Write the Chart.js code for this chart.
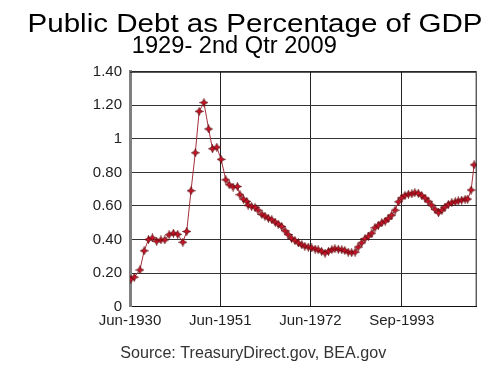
<!DOCTYPE html>
<html>
<head>
<meta charset="utf-8">
<script src="https://cdn.jsdelivr.net/npm/chart.js@4/dist/chart.umd.min.js"></script>
<style>
  html, body { margin: 0; padding: 0; background: #fff; }
  #wrap { position: relative; width: 490px; height: 371px; }
</style>
</head>
<body>
<div id="wrap"><canvas id="debtChart" width="490" height="371"></canvas></div>
<script>
// ---- Data ----
const titleText = 'Public Debt as Percentage of GDP';
const subtitleText = '1929- 2nd Qtr 2009';
const sourceText = 'Source: TreasuryDirect.gov, BEA.gov';

// x tick positions (decimal years) and their labels
const xTickValues = [1930.5, 1951.5, 1972.5, 1993.75];
const xTickLabels = ['Jun-1930', 'Jun-1951', 'Jun-1972', 'Sep-1993'];
const yTickLabels = ['0', '0.20', '0.40', '0.60', '0.80', '1', '1.20', '1.40'];

const years = [
  1930.7, 1931.5, 1932.8, 1933.8, 1934.8, 1935.7, 1936.7, 1937.7, 1938.6, 1939.6,
  1940.6, 1941.6, 1942.8, 1943.7, 1944.7, 1945.7, 1946.6, 1947.7, 1948.8, 1949.7,
  1950.7, 1951.7, 1952.8, 1953.6, 1954.5, 1955.5, 1956.1, 1956.9, 1957.7, 1958.0,
  1958.8, 1959.6, 1960.3, 1961.2, 1961.9, 1962.7, 1963.5, 1964.3, 1965.0, 1965.8,
  1966.6, 1967.3, 1968.1, 1968.9, 1969.7, 1970.5, 1971.2, 1972.0, 1972.8, 1973.6,
  1974.3, 1975.1, 1975.9, 1976.7, 1977.5, 1978.2, 1979.0, 1979.8, 1980.5, 1981.3,
  1982.1, 1982.9, 1983.6, 1984.4, 1985.2, 1986.0, 1986.8, 1987.5, 1988.3, 1989.1,
  1989.9, 1990.6, 1991.4, 1992.2, 1993.0, 1993.75, 1994.5, 1995.3, 1996.1, 1996.8,
  1997.6, 1998.4, 1999.2, 1999.9, 2000.7, 2001.5, 2002.3, 2003.1, 2003.8, 2004.6,
  2005.4, 2006.2, 2006.9, 2007.7, 2008.5, 2009.1, 2009.9, 2010.6
];

const debtRatio = [
  0.164, 0.176, 0.219, 0.333, 0.400, 0.410, 0.390, 0.398, 0.398, 0.429,
  0.438, 0.431, 0.384, 0.448, 0.691, 0.917, 1.164, 1.216, 1.059, 0.941,
  0.950, 0.878, 0.756, 0.727, 0.713, 0.716, 0.667, 0.641, 0.627, 0.605,
  0.597, 0.592, 0.575, 0.550, 0.540, 0.527, 0.518, 0.503, 0.492, 0.478,
  0.452, 0.430, 0.408, 0.394, 0.380, 0.368, 0.360, 0.355, 0.350, 0.343,
  0.339, 0.330, 0.319, 0.330, 0.340, 0.345, 0.342, 0.339, 0.335, 0.325,
  0.322, 0.325, 0.355, 0.380, 0.405, 0.420, 0.438, 0.470, 0.485, 0.500,
  0.510, 0.525, 0.545, 0.575, 0.625, 0.648, 0.663, 0.670, 0.672, 0.679,
  0.676, 0.662, 0.647, 0.628, 0.605, 0.580, 0.560, 0.575, 0.593, 0.610,
  0.620, 0.625, 0.630, 0.635, 0.640, 0.641, 0.695, 0.845
];

// ---- Marker: small 4-point star ----
function makeStar(size) {
  const c = document.createElement('canvas');
  c.width = size; c.height = size;
  const g = c.getContext('2d');
  const m = size / 2, r = size / 2 - 0.5, ri = r * 0.4;
  g.beginPath();
  for (let k = 0; k < 8; k++) {
    const a = -Math.PI / 2 + k * Math.PI / 4;
    const rr = k % 2 === 0 ? r : ri;
    const px = m + rr * Math.cos(a), py = m + rr * Math.sin(a);
    if (k === 0) g.moveTo(px, py); else g.lineTo(px, py);
  }
  g.closePath();
  g.fillStyle = '#d0122a';
  g.fill();
  g.lineWidth = 0.8;
  g.strokeStyle = '#5a0a0a';
  g.stroke();
  return c;
}

// draw text centred at cx, stretched/squeezed to the given width
function drawFitted(ctx, text, cx, baseline, size, width) {
  ctx.font = size + 'px "Liberation Sans", Arial, sans-serif';
  const w = ctx.measureText(text).width;
  ctx.save();
  ctx.translate(cx, baseline);
  ctx.scale(width / w, 1);
  ctx.fillText(text, 0, 0);
  ctx.restore();
}

// Frame (top/right border) + text layer
const framePlugin = {
  id: 'frame',
  afterDraw(chart) {
    const { ctx, chartArea: a } = chart;
    ctx.save();
    ctx.strokeStyle = '#111';
    ctx.lineWidth = 1;
    ctx.beginPath();
    ctx.moveTo(a.left, a.top + 0.5);
    ctx.lineTo(a.right - 0.5, a.top + 0.5);
    ctx.lineTo(a.right - 0.5, a.bottom);
    ctx.stroke();

    ctx.textAlign = 'center';
    ctx.textBaseline = 'alphabetic';
    ctx.fillStyle = '#000';
    drawFitted(ctx, titleText, 255, 32.3, 26.5, 455);
    drawFitted(ctx, subtitleText, 234.3, 53, 23, 205);
    ctx.fillStyle = '#333';
    drawFitted(ctx, sourceText, 253.3, 357.5, 16, 266);
    ctx.restore();
  }
};

const ctx = document.getElementById('debtChart');
new Chart(ctx.getContext('2d'), {
  type: 'line',
  data: {
    datasets: [{
      data: years.map((x, i) => ({ x: x, y: debtRatio[i] })),
      borderColor: '#a3303c',
      borderWidth: 1,
      tension: 0,
      pointStyle: makeStar(9),
      pointRadius: 4.5,
    }],
  },
  options: {
    responsive: false,
    animation: false,
    layout: { padding: { left: 0, right: 13.3, top: 71.7, bottom: 34.3 } },
    plugins: { legend: { display: false }, tooltip: { enabled: false } },
    scales: {
      x: {
        type: 'linear',
        min: 1930.5,
        max: 2011.2,
        afterFit: s => { s.height = 30; },
        afterBuildTicks: s => { s.ticks = xTickValues.map(v => ({ value: v })); },
        grid: { color: '#222', lineWidth: 1, drawTicks: false },
        border: { color: '#111', width: 1 },
        ticks: {
          padding: 5,
          color: '#222',
          maxRotation: 0,
          autoSkip: false,
          font: { family: '"Liberation Sans", Arial, sans-serif', size: 15 },
          callback: (v, i) => xTickLabels[i],
        },
      },
      y: {
        min: 0,
        max: 1.4,
        afterFit: s => { s.width = 130; },
        grid: { color: '#333', lineWidth: 1, drawTicks: false },
        border: { color: '#808080', width: 3 },
        ticks: {
          stepSize: 0.2,
          padding: 8,
          color: '#222',
          font: { family: '"Liberation Sans", Arial, sans-serif', size: 15 },
          callback: (v, i) => yTickLabels[i],
        },
      },
    },
  },
  plugins: [framePlugin],
});
</script>
</body>
</html>
